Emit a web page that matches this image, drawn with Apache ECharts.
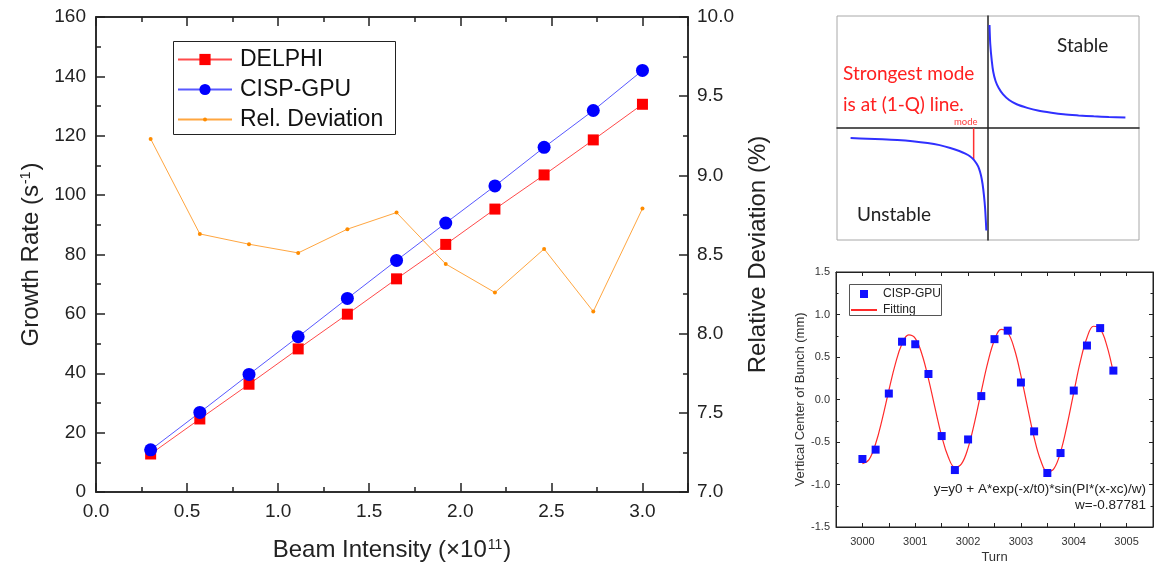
<!DOCTYPE html>
<html>
<head>
<meta charset="utf-8">
<script src="https://cdn.jsdelivr.net/npm/echarts@6/dist/echarts.min.js"></script>
<style>
  html, body { margin: 0; padding: 0; background: #fff; }
  #chart { width: 1166px; height: 567px; }
</style>
</head>
<body>
<div id="chart"></div>
<script>
// main panel: growth rate vs beam intensity
const intensity = [0.3, 0.57, 0.84, 1.11, 1.38, 1.65, 1.92, 2.19, 2.46, 2.73, 3.0]
const delphi = [12.8, 24.6, 36.3, 48.2, 59.9, 71.8, 83.4, 95.3, 106.8, 118.6, 130.6]
const cispGpu = [14.2, 26.8, 39.6, 52.3, 65.2, 78.0, 90.6, 103.1, 116.1, 128.5, 142.0]
const relDeviation = [9.23, 8.63, 8.565, 8.51, 8.66, 8.765, 8.44, 8.26, 8.535, 8.14, 8.79]

// top-right sketch: dispersion-like curve
const stableBranch = [
  [0.01, 0.92], [0.015, 0.75], [0.025, 0.6], [0.035, 0.5], [0.05, 0.42], [0.07, 0.36],
  [0.1, 0.3], [0.14, 0.25], [0.19, 0.212], [0.26, 0.18], [0.33, 0.156], [0.42, 0.136],
  [0.5, 0.122], [0.6, 0.112], [0.7, 0.104], [0.8, 0.098], [0.91, 0.093],
]
const unstableBranch = [
  [-0.91, -0.09], [-0.8, -0.095], [-0.7, -0.1], [-0.6, -0.107], [-0.5, -0.118],
  [-0.4, -0.134], [-0.32, -0.153], [-0.25, -0.178], [-0.19, -0.205], [-0.15, -0.229],
  [-0.12, -0.252], [-0.095, -0.282], [-0.075, -0.32], [-0.06, -0.36], [-0.047, -0.42],
  [-0.036, -0.5], [-0.027, -0.6], [-0.019, -0.72], [-0.011, -0.915],
]
const modeLine = [[-0.095, 0], [-0.095, -0.282]]

// bottom-right panel: bunch centre vs turn
const turns = [3000, 3000.25, 3000.5, 3000.75, 3001, 3001.25, 3001.5, 3001.75, 3002, 3002.25,
  3002.5, 3002.75, 3003, 3003.25, 3003.5, 3003.75, 3004, 3004.25, 3004.5, 3004.75]
const bunchCenter = [-0.7, -0.59, 0.07, 0.68, 0.65, 0.3, -0.43, -0.83, -0.47, 0.04,
  0.71, 0.81, 0.2, -0.375, -0.865, -0.63, 0.105, 0.635, 0.84, 0.34]
const fitTurns = [3000, 3000.125, 3000.25, 3000.375, 3000.5, 3000.625, 3000.75, 3000.875,
  3001, 3001.125, 3001.25, 3001.375, 3001.5, 3001.625, 3001.75, 3001.875, 3002, 3002.125,
  3002.25, 3002.375, 3002.5, 3002.625, 3002.75, 3002.875, 3003, 3003.125, 3003.25, 3003.375,
  3003.5, 3003.625, 3003.75, 3003.875, 3004, 3004.125, 3004.25, 3004.375, 3004.5, 3004.625, 3004.75]
const fitValues = [-0.754, -0.707, -0.52, -0.23, 0.106, 0.423, 0.655, 0.76,
  0.72, 0.536, 0.243, -0.101, -0.43, -0.677, -0.796, -0.757, -0.569, -0.262,
  0.096, 0.44, 0.7, 0.825, 0.788, 0.597, 0.281, -0.09, -0.447, -0.717,
  -0.849, -0.813, -0.619, -0.297, 0.081, 0.448, 0.726, 0.862, 0.83, 0.637, 0.313]

const FONT = 'Liberation Sans, Arial, sans-serif'
const SKETCH_FONT = 'Lato, Noto Sans, sans-serif'
const INK = '#222'

const chart = echarts.init(document.getElementById('chart'))

function pairs(xs, ys) {
  return xs.map((x, i) => [x, ys[i]])
}

// shared look of the framed axes (ticks pointing into the plot)
function frameAxis(grid, pos, min, max, interval, big) {
  const w = big ? 1.5 : 1
  return {
    type: 'value', gridIndex: grid, position: pos, min, max, interval,
    axisLine: { show: true, onZero: false, lineStyle: { color: INK, width: w } },
    axisTick: { show: true, inside: true, length: big ? 9 : 4, lineStyle: { color: INK, width: w } },
    minorTick: { show: true, splitNumber: 2, length: big ? 5 : 2.5, lineStyle: { color: INK, width: w } },
    axisLabel: { show: false },
    splitLine: { show: false },
  }
}

const mainX = frameAxis(0, 'bottom', 0, 3.25, 0.5, true)
mainX.axisLabel = {
  show: true, showMaxLabel: false, margin: 10, color: INK, fontSize: 19, fontFamily: FONT,
  formatter: v => v.toFixed(1),
}
mainX.name = '{t|Beam Intensity (×10}{s|11}{t|)}'
mainX.nameLocation = 'middle'
mainX.nameGap = 46
mainX.nameTextStyle = {
  rich: {
    t: { fontSize: 24, fontFamily: FONT, color: INK },
    s: { fontSize: 14, fontFamily: FONT, color: INK, verticalAlign: 'top', padding: [0, 1, 0, 1] },
  },
}

const mainYLeft = frameAxis(0, 'left', 0, 160, 20, true)
mainYLeft.axisLabel = { show: true, margin: 10, color: INK, fontSize: 19, fontFamily: FONT }
mainYLeft.name = '{t|Growth Rate (s}{s|-1}{t|)}'
mainYLeft.nameLocation = 'middle'
mainYLeft.nameGap = 43
mainYLeft.nameTextStyle = {
  rich: {
    t: { fontSize: 24, fontFamily: FONT, color: INK },
    s: { fontSize: 14, fontFamily: FONT, color: INK, verticalAlign: 'top', padding: [0, 1, 0, 1] },
  },
}

const mainYRight = frameAxis(0, 'right', 7, 10, 0.5, true)
mainYRight.axisLabel = {
  show: true, margin: 9, color: INK, fontSize: 19, fontFamily: FONT, formatter: v => v.toFixed(1),
}
mainYRight.name = 'Relative Deviation (%)'
mainYRight.nameLocation = 'middle'
mainYRight.nameGap = 58
mainYRight.nameRotate = 90
mainYRight.nameTextStyle = { fontSize: 24, fontFamily: FONT, color: INK }

const turnX = frameAxis(2, 'bottom', 2999.5, 3005.5, 0.5, false)
turnX.minorTick = { show: false }
turnX.axisLabel = {
  show: true, margin: 9, color: '#333', fontSize: 11, fontFamily: FONT,
  formatter: v => (Number.isInteger(v) ? String(v) : ''),
}
turnX.name = 'Turn'
turnX.nameLocation = 'middle'
turnX.nameGap = 24
turnX.nameTextStyle = { fontSize: 13, fontFamily: FONT, color: '#333' }

const turnXTop = frameAxis(2, 'top', 2999.5, 3005.5, 0.5, false)
turnXTop.minorTick = { show: false }

const centerY = frameAxis(2, 'left', -1.5, 1.5, 0.5, false)
centerY.axisLabel = {
  show: true, margin: 6, color: '#333', fontSize: 11, fontFamily: FONT, formatter: v => v.toFixed(1),
}
centerY.name = 'Vertical Center of Bunch (mm)'
centerY.nameLocation = 'middle'
centerY.nameGap = 28
centerY.nameTextStyle = { fontSize: 13, fontFamily: FONT, color: '#333' }

const sketchAxis = grid => ({
  type: 'value', gridIndex: grid, min: -1, max: 1,
  axisLine: { show: true, onZero: true, lineStyle: { color: INK, width: 1.5 } },
  axisTick: { show: false }, axisLabel: { show: false }, splitLine: { show: false },
})

const option = {
  animation: false,
  backgroundColor: '#fff',
  grid: [
    { left: 96, top: 17, width: 592, height: 476, show: true, borderColor: INK, borderWidth: 1.5 },
    { left: 837, top: 16, width: 302, height: 224, show: true, borderColor: '#a8a8a8', borderWidth: 1 },
    { left: 836, top: 272, width: 317, height: 255, show: true, borderColor: INK, borderWidth: 1 },
  ],
  xAxis: [
    mainX,
    frameAxis(0, 'top', 0, 3.25, 0.5, true),
    sketchAxis(1),
    turnX,
    turnXTop,
  ],
  yAxis: [
    mainYLeft,
    mainYRight,
    sketchAxis(1),
    centerY,
    frameAxis(2, 'right', -1.5, 1.5, 0.5, false),
  ],
  legend: [
    {
      data: ['DELPHI', 'CISP-GPU'],
      orient: 'vertical', left: 177, top: 48, padding: 0,
      itemWidth: 54, itemHeight: 14, itemGap: 7,
      textStyle: { fontSize: 23, fontFamily: FONT, color: '#111', padding: [0, 0, 0, 3] },
    },
    {
      data: ['Rel. Deviation'],
      orient: 'vertical', left: 177, top: 108, padding: 0,
      itemWidth: 54, itemHeight: 5,
      textStyle: { fontSize: 23, fontFamily: FONT, color: '#111', padding: [0, 0, 0, 3] },
    },
    {
      data: ['CISP-GPU ', { name: 'Fitting', itemStyle: { opacity: 0 } }],
      orient: 'vertical', left: 850, top: 288, padding: 0,
      itemWidth: 26, itemHeight: 10, itemGap: 4,
      textStyle: { fontSize: 12, fontFamily: FONT, color: INK, padding: [0, 0, 0, 1] },
    },
  ],
  graphic: [
    { type: 'rect', shape: { x: 173.5, y: 41.5, width: 222, height: 93 }, style: { fill: 'none', stroke: INK, lineWidth: 1 }, z: 5 },
    { type: 'rect', shape: { x: 849.5, y: 284.5, width: 92, height: 31 }, style: { fill: 'none', stroke: '#555', lineWidth: 1 }, z: 5 },
    { type: 'text', left: 1057, top: 36, style: { text: 'Stable', fontSize: 19, fontFamily: SKETCH_FONT, fill: INK } },
    { type: 'text', left: 857, top: 205, style: { text: 'Unstable', fontSize: 19, fontFamily: SKETCH_FONT, fill: INK } },
    { type: 'text', left: 843, top: 64, style: { text: 'Strongest mode', fontSize: 19, fontFamily: SKETCH_FONT, fill: '#ff2020' } },
    { type: 'text', left: 843, top: 95, style: { text: 'is at (1-Q) line.', fontSize: 19, fontFamily: SKETCH_FONT, fill: '#ff2020' } },
    { type: 'text', left: 954, top: 117, style: { text: 'mode', fontSize: 9.5, fontFamily: SKETCH_FONT, fill: '#ff4040' } },
    {
      type: 'text', right: 20, top: 482,
      style: { text: 'y=y0 + A*exp(-x/t0)*sin(PI*(x-xc)/w)', fontSize: 13.5, fontFamily: FONT, fill: INK },
    },
    { type: 'text', right: 20, top: 498, style: { text: 'w=-0.87781', fontSize: 13.5, fontFamily: FONT, fill: INK } },
  ],
  series: [
    {
      name: 'DELPHI', type: 'line', xAxisIndex: 0, yAxisIndex: 0,
      data: pairs(intensity, delphi),
      symbol: 'rect', symbolSize: 11,
      itemStyle: { color: '#ff0000' },
      lineStyle: { color: '#ff4a4a', width: 1 },
    },
    {
      name: 'CISP-GPU', type: 'line', xAxisIndex: 0, yAxisIndex: 0,
      data: pairs(intensity, cispGpu),
      symbol: 'circle', symbolSize: 13,
      itemStyle: { color: '#0000ff' },
      lineStyle: { color: '#5858ff', width: 1 },
    },
    {
      name: 'Rel. Deviation', type: 'line', xAxisIndex: 0, yAxisIndex: 1,
      data: pairs(intensity, relDeviation),
      symbol: 'circle', symbolSize: 4,
      itemStyle: { color: '#ff8c00' },
      lineStyle: { color: '#ffa640', width: 1 },
    },
    {
      type: 'line', xAxisIndex: 2, yAxisIndex: 2, data: stableBranch,
      smooth: 0.3, symbol: 'none', lineStyle: { color: '#3030ff', width: 2 },
    },
    {
      type: 'line', xAxisIndex: 2, yAxisIndex: 2, data: unstableBranch,
      smooth: 0.3, symbol: 'none', lineStyle: { color: '#3030ff', width: 2 },
    },
    {
      type: 'line', xAxisIndex: 2, yAxisIndex: 2, data: modeLine,
      symbol: 'none', lineStyle: { color: '#ff3030', width: 1.5 }, z: 1,
    },
    {
      name: 'Fitting', type: 'line', xAxisIndex: 3, yAxisIndex: 3,
      data: pairs(fitTurns, fitValues),
      smooth: 0.4, symbol: 'none',
      itemStyle: { color: '#ff2a2a' },
      lineStyle: { color: '#ff2a2a', width: 1.2 },
    },
    {
      name: 'CISP-GPU ', type: 'line', xAxisIndex: 3, yAxisIndex: 3,
      data: pairs(turns, bunchCenter),
      symbol: 'rect', symbolSize: 8,
      itemStyle: { color: '#1010ff' },
      lineStyle: { opacity: 0 },
    },
  ],
}

chart.setOption(option)
</script>
</body>
</html>
